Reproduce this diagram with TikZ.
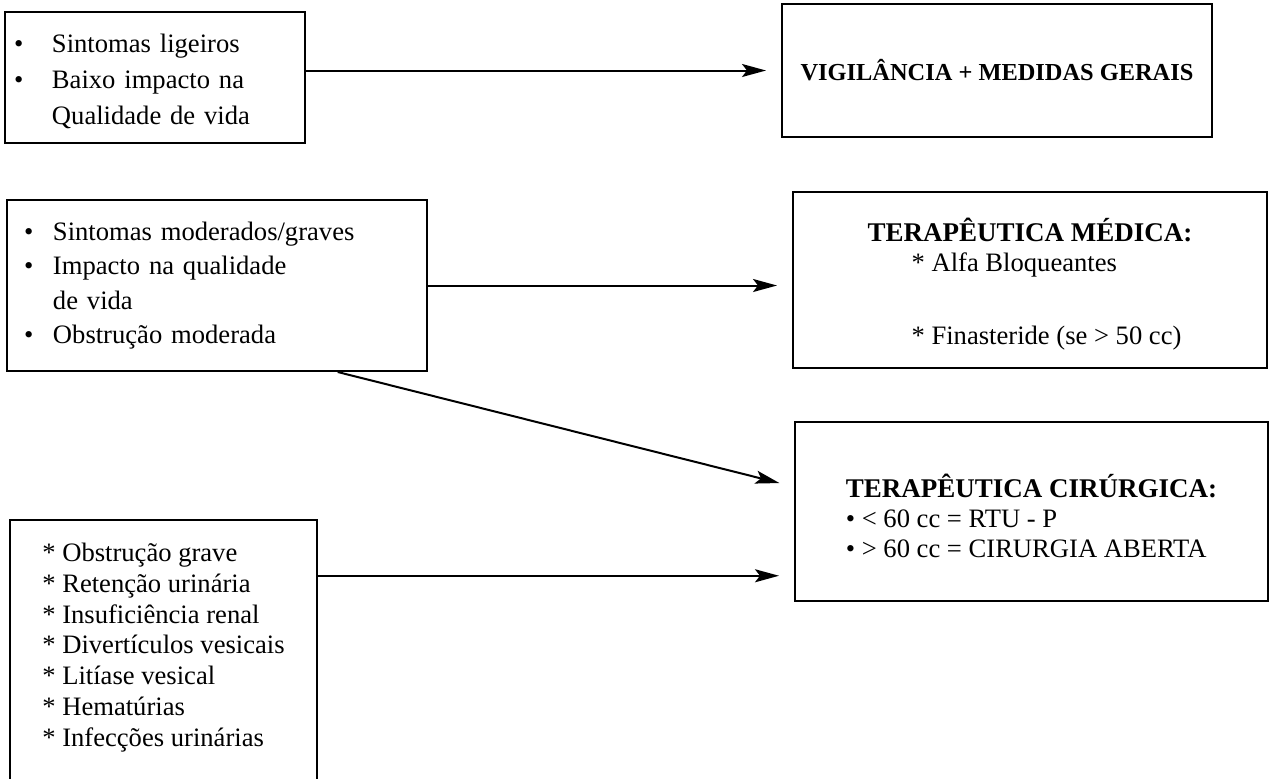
\documentclass[tikz,border=0pt]{standalone}
\usepackage{fontspec}
\setmainfont{Liberation Serif}
\usetikzlibrary{arrows.meta,calc}

\newcommand{\bul}[1]{\makebox[#1][l]{\hspace{2.5pt}\textbullet}}
\newcommand{\hd}{\fontsize{13.5pt}{15pt}\selectfont\bfseries}

\begin{document}
\begin{tikzpicture}[x=0.5pt,y=-0.5pt,
  line width=1pt,
  box/.style={draw,rectangle,inner ysep=0pt,font=\fontsize{13.3pt}{15.4pt}\selectfont},
  arr/.style={-{Stealth[length=12pt,width=6.5pt,inset=2.5pt]},shorten >=7.5pt}]

  \useasboundingbox (0,0) rectangle (1276,778);
  \clip (0,0) rectangle (1276,778);

  \node[box,align=left,text width=146pt,inner xsep=2pt,minimum height=65.5pt,
    font=\fontsize{13.3pt}{18pt}\selectfont] (1) at (155,77.5)
    {\rule{0pt}{13pt}\bul{21.5pt}Sintomas ligeiros\\\bul{21.5pt}Baixo impacto na\\\hspace*{21.5pt}Qualidade de vida};
  \node[box,minimum width=215pt,minimum height=66.5pt,
    font=\fontsize{12.2pt}{15pt}\selectfont\bfseries] (2) at (997,70.5)
    {VIGILÂNCIA + MEDIDAS GERAIS};
  \node[box,align=left,text width=198pt,inner xsep=6pt,minimum height=85.5pt,
    font=\fontsize{13.3pt}{17.3pt}\selectfont] (3) at (217,285.5)
    {\bul{17pt}Sintomas moderados/graves\\\bul{17pt}Impacto na qualidade\\\hspace*{17pt}de vida\\\bul{17pt}Obstrução moderada};
  \node[box,align=left,minimum width=237pt,minimum height=88pt,
    font=\fontsize{13.3pt}{15pt}\selectfont] (4) at (1030,280)
    {\rule{0pt}{16pt}{\hd TERAPÊUTICA MÉDICA:}\\\hspace*{22pt}* Alfa Bloqueantes\\[21.5pt]\hspace*{22pt}* Finasteride (se > 50 cc)};
  \node[box,align=left,minimum width=236.5pt,minimum height=89.5pt,
    font=\fontsize{13.3pt}{15pt}\selectfont] (5) at (1031.5,511.5)
    {\rule{0pt}{16pt}{\hd TERAPÊUTICA CIRÚRGICA:}\\\textbullet\ < 60 cc = RTU - P\\\textbullet\ > 60 cc = CIRURGIA ABERTA};
  \node[box,align=left,minimum width=153.5pt,minimum height=140pt] (6) at (163.5,660)
    {* Obstrução grave\\{}* Retenção urinária\\{}* Insuficiência renal\\{}* Divertículos vesicais\\{}* Litíase vesical\\{}* Hematúrias\\{}* Infecções urinárias\\\mbox{}};

  \coordinate (c1) at ($(3.south west)!0.786!(3.south east)$);
  \coordinate (c2) at ($(5.north west)!0.363!(5.south west)$);
  \coordinate (c3) at ($(5.north west)!0.855!(5.south west)$);

  \path[arr]
    (1.east |- 2.west) edge (2.west)
    (3.east) edge (3.east -| 4.west)
    (c1) edge (c2)
    (6.east |- c3) edge (c3);
\end{tikzpicture}
\end{document}
